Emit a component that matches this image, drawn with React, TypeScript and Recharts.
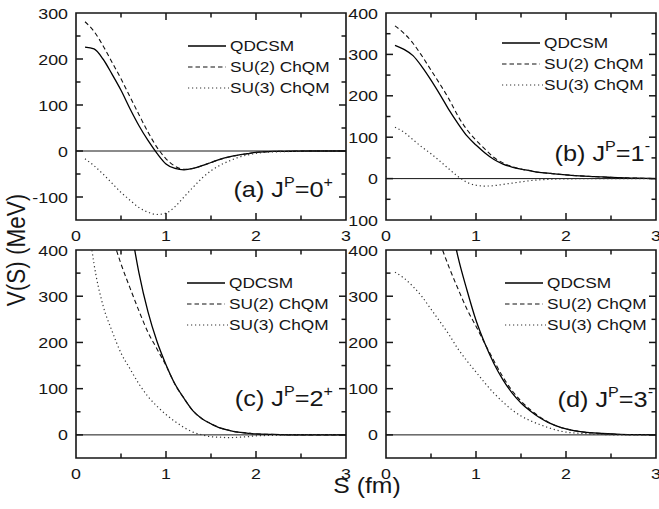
import React from "react";
import { LineChart, Line, XAxis, YAxis, ReferenceLine, ReferenceArea, Legend } from "recharts";

// separation S (fm), shared by every series
const S = [0.1, 0.2, 0.3, 0.4, 0.5, 0.6, 0.7, 0.8, 0.9, 1.0, 1.1, 1.2, 1.3, 1.4, 1.5, 1.6, 1.7, 1.8, 1.9, 2.0, 2.2, 2.4, 2.6, 2.8, 3.0];
const N = null;

// (a) J^P = 0+
const qdcsmA = [226, 222, 200, 167, 132, 92, 55, 23, -5, -28, -38, -41, -38, -32, -25, -18, -13, -9, -6, -3, -1, -0.5, 0, 0, 0];
const su2A = [281, 260, 229, 193, 157, 118, 79, 41, 8, -17, -33, -40, -38, -32, -25, -18, -13, -9, -6, -3, -1, -0.5, 0, 0, 0];
const su3A = [-17, -32, -50, -70, -90, -107, -123, -133, -138, -135, -121, -100, -79, -59, -43, -31, -22, -14, -9, -5, -2, -1, 0, 0, 0];

// (b) J^P = 1-
const qdcsmB = [322, 312, 297, 270, 238, 203, 166, 133, 103, 81, 62, 46, 35, 28, 23, 19, 15, 13, 11, 9, 6, 4, 2, 1, 0];
const su2B = [369, 351, 327, 296, 262, 228, 192, 151, 118, 93, 71, 51, 38, 29, 23, 19, 15, 13, 11, 9, 6, 4, 2, 1, 0];
const su3B = [124, 112, 94, 76, 60, 42, 23, 5, -9, -16, -18, -17, -14, -11, -8, -5, -3, -2, -1, -1, 0, 0, 0, 0, 0];

// (c) J^P = 2+
const qdcsmC = [N, N, N, N, N, 460, 350, 266, 202, 152, 110, 79, 52, 35, 24, 15, 10, 6, 4, 2, 1, 0, 0, 0, 0];
const su2C = [N, N, N, 430, 370, 318, 268, 222, 186, 150, 109, 79, 52, 35, 24, 15, 10, 6, 4, 2, 1, 0, 0, 0, 0];
const su3C = [520, 370, 280, 225, 177, 143, 110, 83, 62, 44, 29, 16, 6, 0, -4, -5, -6, -5, -4, -2, -1, 0, 0, 0, 0];

// (d) J^P = 3-
const qdcsmD = [N, N, N, N, N, N, 480, 385, 313, 248, 197, 154, 119, 91, 69, 52, 38, 27, 19, 13, 6, 3, 1, 0.5, 0];
const su2D = [N, N, N, N, N, 415, 363, 316, 272, 235, 197, 160, 125, 96, 73, 55, 40, 28, 19, 13, 6, 3, 1, 0.5, 0];
const su3D = [352, 339, 321, 299, 272, 245, 217, 186, 160, 136, 112, 90, 71, 54, 41, 31, 23, 16, 10, 6, 3, 1, 0, 0, 0];

const X_TICKS = [0, 0.5, 1, 1.5, 2, 2.5, 3];
const Y_TICKS_A = [-150, -100, -50, 0, 50, 100, 150, 200, 250, 300];
const Y_TICKS_B = [-100, -50, 0, 50, 100, 150, 200, 250, 300, 350, 400];
const Y_TICKS_CD = [-50, 0, 50, 100, 150, 200, 250, 300, 350, 400];

const SERIES = [
  { key: "q", name: "QDCSM", color: "#000", width: 1.3, dash: undefined as string | undefined },
  { key: "su2", name: "SU(2) ChQM", color: "#111", width: 1.1, dash: "4.5 3" },
  { key: "su3", name: "SU(3) ChQM", color: "#333", width: 1.2, dash: "1.2 2.8" },
];

const PANELS = [
  { letter: "a", j: "0", parity: "+", q: qdcsmA, su2: su2A, su3: su3A, domain: [-150, 300], yTicks: Y_TICKS_A },
  { letter: "b", j: "1", parity: "-", q: qdcsmB, su2: su2B, su3: su3B, domain: [-100, 400], yTicks: Y_TICKS_B },
  { letter: "c", j: "2", parity: "+", q: qdcsmC, su2: su2C, su3: su3C, domain: [-50, 400], yTicks: Y_TICKS_CD },
  { letter: "d", j: "3", parity: "-", q: qdcsmD, su2: su2D, su3: su3D, domain: [-50, 400], yTicks: Y_TICKS_CD },
];

// plot boxes in page pixels
const BOXES = [
  { L: 76, T: 13, R: 346, B: 220, tagX: 333, tagY: 197, legX: 112, legY: 33 },
  { L: 386, T: 13, R: 656, B: 220, tagX: 650, tagY: 161, legX: 116, legY: 30 },
  { L: 76, T: 250, R: 346, B: 458, tagX: 333, tagY: 406, legX: 111, legY: 33 },
  { L: 386, T: 250, R: 656, B: 458, tagX: 653, tagY: 407, legX: 119, legY: 33 },
];

const SX = 1.15; // the original lettering is a bit wide
const FONT = "'Liberation Sans', Arial, Helvetica, sans-serif";
const INK = "#161616";

const xLabel = (p: any) => {
  const v = p.payload.value;
  if (!Number.isInteger(v)) return <g />;
  return (
    <text transform={`translate(${p.x},${p.y + 21}) scale(${SX},1)`} textAnchor="middle" fontSize={15.5} fontFamily={FONT} fill={INK}>
      {v}
    </text>
  );
};

const yLabel = (panel: string) => (p: any) => {
  const v = p.payload.value;
  if (v % 100 !== 0) return <g />;
  // the minus of the lowest (b) label sits under panel (a) in the original
  const txt = panel === "b" && v === -100 ? "100" : String(v);
  return (
    <text transform={`translate(${p.x - 8},${p.y}) scale(${SX},1)`} dy="0.36em" textAnchor="end" fontSize={15.5} fontFamily={FONT} fill={INK}>
      {txt}
    </text>
  );
};

const legendContent = (props: any) => (
  <svg width={200} height={64} style={{ overflow: "visible" }}>
    {(props.payload || []).map((entry: any, i: number) => {
      const s = SERIES.find((d) => d.key === entry.dataKey) || SERIES[i];
      const y = 10 + i * 21;
      return (
        <g key={s.key}>
          <line x1={0} x2={s.dash === "1.2 2.8" ? 41 : 38} y1={y} y2={y} stroke={s.color} strokeWidth={s.width} strokeDasharray={s.dash} />
          <text transform={`translate(42,${y}) scale(${SX},1)`} dy="0.36em" fontSize={15} fontFamily={FONT} fill={INK}>
            {entry.value}
          </text>
        </g>
      );
    })}
  </svg>
);

// inward tick marks on all four sides of a panel frame
function FrameTicks({ def, box }: { def: any; box: any }) {
  const [lo, hi] = def.domain;
  const px = (v: number) => box.L + (v / 3) * (box.R - box.L);
  const py = (v: number) => box.B - ((v - lo) / (hi - lo)) * (box.B - box.T);
  const marks: React.ReactNode[] = [];
  X_TICKS.filter((v) => v > 0 && v < 3).forEach((v) => {
    const len = Number.isInteger(v) ? 7 : 4.5;
    const x = px(v);
    marks.push(<line key={"xb" + v} x1={x} x2={x} y1={box.B} y2={box.B - len} />);
    marks.push(<line key={"xt" + v} x1={x} x2={x} y1={box.T} y2={box.T + len} />);
  });
  def.yTicks.filter((v: number) => v > lo && v < hi).forEach((v: number) => {
    const len = v % 100 === 0 ? 7 : 4.5;
    const y = py(v);
    marks.push(<line key={"yl" + v} x1={box.L} x2={box.L + len} y1={y} y2={y} />);
    marks.push(<line key={"yr" + v} x1={box.R} x2={box.R - len} y1={y} y2={y} />);
  });
  return (
    <g stroke={INK} strokeWidth={1.5}>
      {marks}
    </g>
  );
}

function Panel({ def, box }: { def: any; box: any }) {
  const rows = S.map((s, i) => ({ s, q: def.q[i], su2: def.su2[i], su3: def.su3[i] }));
  const [lo, hi] = def.domain;
  const shared = { type: "number" as const, interval: 0, tickSize: 0, tickMargin: 0, tickLine: false, axisLine: false, allowDataOverflow: true };
  return (
    <div style={{ position: "absolute", left: box.L - 50, top: box.T - 10 }}>
      <LineChart width={box.R - box.L + 60} height={box.B - box.T + 40} data={rows} margin={{ top: 10, right: 10, bottom: 0, left: 0 }}>
        <XAxis dataKey="s" domain={[0, 3]} ticks={X_TICKS} tick={xLabel} height={30} {...shared} />
        <YAxis domain={def.domain} ticks={def.yTicks} tick={yLabel(def.letter)} width={50} {...shared} />
        <ReferenceLine y={0} stroke={INK} strokeWidth={1} />
        <ReferenceArea x1={0} x2={3} y1={lo} y2={hi} fill="none" stroke={INK} strokeWidth={1.6} ifOverflow="visible" />
        {SERIES.map((s) => (
          <Line key={s.key} dataKey={s.key} name={s.name} type="monotone" stroke={s.color} strokeWidth={s.width} strokeDasharray={s.dash} dot={false} activeDot={false} isAnimationActive={false} />
        ))}
        <Legend content={legendContent} layout="vertical" align="center" verticalAlign="middle" wrapperStyle={{ left: 50 + box.legX, top: box.legY, width: 200, height: 64 }} />
      </LineChart>
    </div>
  );
}

export default function App() {
  return (
    <div style={{ position: "absolute", left: 0, top: 0, width: 659, height: 509, background: "#fff", fontFamily: FONT }}>
      {PANELS.map((def, i) => (
        <Panel key={def.letter} def={def} box={BOXES[i]} />
      ))}
      <svg width={659} height={509} style={{ position: "absolute", left: 0, top: 0, pointerEvents: "none" }}>
        {PANELS.map((def, i) => (
          <FrameTicks key={"t" + def.letter} def={def} box={BOXES[i]} />
        ))}
        {PANELS.map((def, i) => (
          <g key={def.letter} transform={`translate(${BOXES[i].tagX},${BOXES[i].tagY}) scale(${SX},1)`}>
            <text textAnchor="end" fontSize={22} fontFamily={FONT} fill={INK}>
              ({def.letter}) J<tspan fontSize={14} dy={-10}>P</tspan>
              <tspan dy={10}>={def.j}</tspan>
              <tspan fontSize={14} dy={-10}>{def.parity}</tspan>
            </text>
          </g>
        ))}
        <text transform={`translate(25,250) rotate(-90) scale(1,${SX})`} textAnchor="middle" fontSize={22.5} fontFamily={FONT} fill={INK}>
          V(S) (MeV)
        </text>
        <text transform={`translate(367,493) scale(${SX},1)`} textAnchor="middle" fontSize={21.5} fontFamily={FONT} fill={INK}>
          S (fm)
        </text>
      </svg>
    </div>
  );
}
